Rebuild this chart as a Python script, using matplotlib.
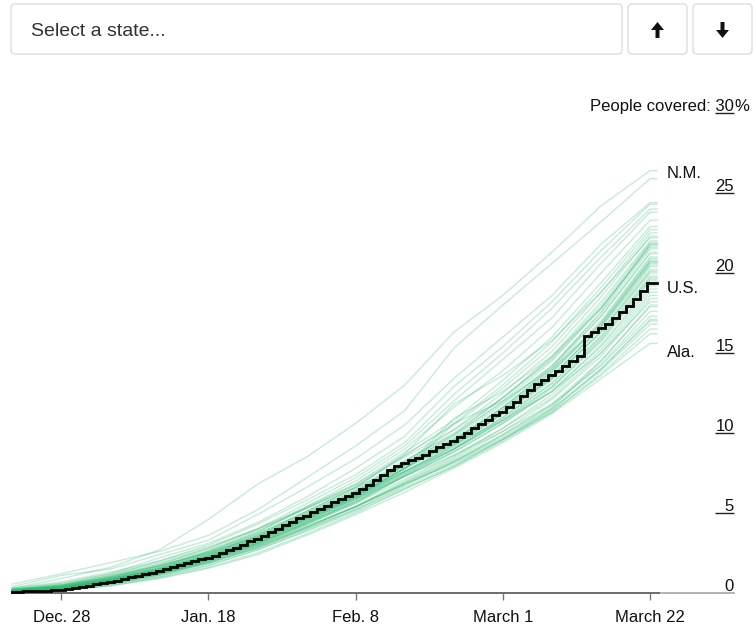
import numpy as np
import pandas as pd
import matplotlib
matplotlib.use("Agg")
import matplotlib.pyplot as plt
import matplotlib.dates as mdates
from matplotlib.patches import FancyBboxPatch, FancyArrow
from matplotlib.transforms import blended_transform_factory

plt.rcParams['font.family'] = ['Liberation Sans', 'DejaVu Sans']

# ---------------- data ----------------
us_dates = pd.date_range('2020-12-21', '2021-03-23', freq='D')
us_values = [
    0.06, 0.08, 0.10, 0.12, 0.13, 0.15, 0.17,
    0.20, 0.25, 0.31, 0.38, 0.45, 0.55, 0.64,
    0.70, 0.78, 0.87, 0.97, 1.06, 1.16, 1.26,
    1.36, 1.48, 1.60, 1.73, 1.86, 1.98, 2.10,
    2.20, 2.32, 2.48, 2.66, 2.84, 3.03, 3.22,
    3.38, 3.58, 3.80, 4.02, 4.24, 4.46, 4.66,
    4.84, 5.04, 5.24, 5.46, 5.70, 5.90, 6.08,
    6.24, 6.50, 6.78, 7.06, 7.40, 7.70, 7.96,
    8.14, 8.30, 8.46, 8.62, 8.86, 9.10, 9.32,
    9.50, 9.72, 10.00, 10.30, 10.56, 10.84, 11.10,
    11.34, 11.64, 11.96, 12.34, 12.70, 13.04, 13.34,
    13.60, 13.90, 14.20, 14.50, 14.82, 16.08, 16.34,
    16.56, 16.84, 17.18, 17.54, 17.94, 18.38, 18.86,
    19.36, 19.36,
]

# weekly readings for each state (Dec 21 ... Mar 22, every 7 days)
state_dates = pd.date_range('2020-12-21', periods=14, freq='7D')
state_names = ['N.M.'] + [''] * 48 + ['Ala.'] + ['', '']
state_values = [
    [0.30, 0.90, 1.60, 2.70, 4.60, 6.80, 8.50, 10.6, 13.0, 16.3, 18.6, 21.3, 24.2, 26.4],
    [0.55, 1.20, 1.90, 2.60, 3.60, 5.20, 7.20, 9.20, 11.4, 15.3, 18.0, 20.6, 23.2, 25.9],
    [0.40, 1.10, 1.50, 2.40, 3.30, 4.90, 6.60, 8.40, 10.5, 13.4, 16.0, 18.6, 21.8, 24.4],
    [0.20, 0.60, 1.20, 2.20, 3.10, 4.40, 6.00, 7.80, 9.80, 12.9, 15.4, 18.2, 21.4, 24.3],
    [0.25, 0.50, 1.10, 2.00, 3.00, 4.30, 5.80, 7.40, 9.40, 12.4, 15.0, 17.8, 21.0, 24.0],
    [0.15, 0.40, 1.00, 1.80, 2.80, 4.00, 5.60, 7.20, 9.20, 12.0, 14.6, 17.2, 20.6, 23.8],
    [0.20, 0.45, 0.95, 1.70, 2.60, 3.80, 5.40, 7.00, 9.00, 11.6, 13.9, 16.6, 20.0, 23.3],
    [0.18, 0.35, 0.90, 1.60, 2.60, 3.80, 5.30, 6.80, 8.80, 10.8, 13.3, 16.0, 19.4, 22.9],
    [0.10, 0.30, 0.80, 1.50, 2.40, 3.60, 5.10, 6.60, 8.60, 10.6, 13.0, 15.7, 19.1, 22.7],
    [0.30, 0.60, 1.20, 1.90, 2.80, 4.00, 5.40, 6.80, 8.60, 10.5, 12.8, 15.4, 18.8, 22.5],
    [0.12, 0.30, 0.85, 1.50, 2.40, 3.50, 4.90, 6.30, 8.20, 10.2, 12.5, 15.1, 18.5, 22.3],
    [0.20, 0.50, 1.00, 1.70, 2.50, 3.70, 5.10, 6.60, 8.70, 11.8, 13.6, 15.8, 18.8, 22.2],
    [0.08, 0.25, 0.70, 1.30, 2.20, 3.30, 4.70, 6.10, 8.00, 9.90, 12.2, 14.8, 18.2, 22.0],
    [0.15, 0.40, 0.90, 1.60, 2.50, 3.60, 5.00, 6.40, 8.20, 10.0, 12.2, 14.7, 18.0, 21.9],
    [0.10, 0.30, 0.80, 1.40, 2.30, 3.40, 4.80, 6.20, 8.10, 9.80, 12.0, 14.5, 17.8, 21.8],
    [0.22, 0.50, 1.10, 1.80, 2.70, 3.90, 5.30, 6.70, 8.50, 10.2, 12.2, 14.6, 17.8, 21.7],
    [0.10, 0.28, 0.75, 1.40, 2.20, 3.30, 4.60, 6.00, 7.80, 10.9, 12.6, 14.8, 17.8, 21.6],
    [0.14, 0.35, 0.85, 1.50, 2.40, 3.50, 4.90, 6.30, 8.00, 9.70, 11.8, 14.2, 17.5, 21.5],
    [0.06, 0.22, 0.65, 1.25, 2.10, 3.20, 4.60, 6.00, 7.80, 9.50, 11.6, 14.0, 17.3, 21.3],
    [0.20, 0.45, 1.00, 1.70, 2.60, 3.70, 5.10, 6.50, 8.30, 9.90, 11.9, 14.2, 17.3, 21.2],
    [0.12, 0.30, 0.80, 1.45, 2.30, 3.40, 4.80, 6.20, 7.90, 9.60, 11.6, 13.9, 17.0, 21.0],
    [0.08, 0.25, 0.70, 1.30, 2.10, 3.20, 4.50, 5.90, 7.60, 9.30, 11.4, 13.8, 16.9, 20.9],
    [0.16, 0.40, 0.90, 1.55, 2.40, 3.50, 4.90, 6.30, 8.00, 9.60, 11.5, 13.8, 16.8, 20.8],
    [0.10, 0.30, 0.75, 1.35, 2.20, 3.30, 4.60, 6.00, 7.70, 10.6, 12.0, 14.0, 16.8, 20.7],
    [0.05, 0.20, 0.60, 1.20, 2.00, 3.10, 4.40, 5.80, 7.50, 9.20, 11.2, 13.5, 16.6, 20.6],
    [0.18, 0.42, 0.95, 1.60, 2.50, 3.60, 5.00, 6.40, 8.00, 9.50, 11.4, 13.6, 16.6, 20.5],
    [0.10, 0.28, 0.72, 1.30, 2.10, 3.20, 4.50, 5.90, 7.60, 9.20, 11.2, 13.4, 16.4, 20.4],
    [0.07, 0.22, 0.62, 1.20, 2.00, 3.00, 4.30, 5.70, 7.40, 9.00, 11.0, 13.3, 16.3, 20.2],
    [0.13, 0.35, 0.85, 1.45, 2.30, 3.40, 4.70, 6.10, 7.80, 9.30, 11.2, 13.4, 16.3, 20.1],
    [0.09, 0.26, 0.70, 1.30, 2.10, 3.10, 4.40, 5.80, 7.40, 9.00, 10.9, 13.1, 16.1, 20.0],
    [0.15, 0.38, 0.88, 1.50, 2.30, 3.40, 4.70, 6.00, 7.60, 9.10, 11.0, 13.1, 16.0, 19.8],
    [0.06, 0.20, 0.58, 1.15, 1.95, 3.00, 4.30, 5.60, 7.30, 8.90, 10.8, 12.9, 15.9, 19.7],
    [0.11, 0.30, 0.75, 1.35, 2.15, 3.20, 4.50, 5.90, 7.50, 9.00, 10.8, 12.9, 15.8, 19.6],
    [0.08, 0.24, 0.66, 1.25, 2.05, 3.10, 4.40, 5.70, 7.30, 8.80, 10.6, 12.8, 15.7, 19.5],
    [0.14, 0.36, 0.82, 1.40, 2.20, 3.30, 4.70, 6.10, 7.80, 9.50, 11.6, 14.1, 17.6, 21.8],
    [0.12, 0.32, 0.80, 1.40, 2.25, 3.35, 4.70, 6.10, 7.80, 9.40, 11.3, 13.5, 16.7, 20.7],
    [0.10, 0.30, 0.75, 1.30, 2.10, 3.10, 4.40, 5.70, 7.30, 8.80, 10.6, 12.6, 15.5, 19.2],
    [0.20, 0.50, 1.05, 1.70, 2.50, 3.50, 4.80, 6.10, 7.60, 9.00, 10.7, 12.6, 15.4, 19.0],
    [0.06, 0.18, 0.55, 1.10, 1.85, 2.85, 4.10, 5.40, 7.00, 8.50, 10.3, 12.4, 15.2, 18.8],
    [0.12, 0.32, 0.78, 1.35, 2.10, 3.10, 4.30, 5.60, 7.10, 8.60, 10.3, 12.2, 15.0, 18.6],
    [0.08, 0.22, 0.60, 1.15, 1.90, 2.90, 4.10, 5.40, 6.90, 8.40, 10.1, 12.1, 14.8, 18.4],
    [0.30, 0.70, 1.30, 2.00, 2.90, 4.00, 5.30, 6.60, 8.00, 9.30, 10.8, 12.6, 15.0, 18.2],
    [0.05, 0.16, 0.50, 1.00, 1.70, 2.70, 3.90, 5.20, 6.70, 8.20, 9.90, 11.8, 14.5, 17.9],
    [0.10, 0.28, 0.70, 1.25, 2.00, 2.95, 4.15, 5.40, 6.90, 8.30, 9.90, 11.7, 14.3, 17.6],
    [0.16, 0.42, 0.90, 1.50, 2.30, 3.30, 4.60, 5.90, 7.30, 8.60, 10.1, 11.8, 14.2, 17.3],
    [0.04, 0.14, 0.45, 0.95, 1.60, 2.50, 3.70, 5.00, 6.50, 7.90, 9.60, 11.5, 14.0, 17.0],
    [0.10, 0.26, 0.65, 1.20, 1.90, 2.80, 4.00, 5.20, 6.60, 8.00, 9.60, 11.4, 13.9, 16.8],
    [0.06, 0.20, 0.55, 1.05, 1.75, 2.70, 3.85, 5.10, 6.50, 7.90, 9.50, 11.3, 13.7, 16.5],
    [0.14, 0.36, 0.80, 1.35, 2.10, 3.00, 4.20, 5.40, 6.80, 8.10, 9.60, 11.3, 13.6, 16.2],
    [0.05, 0.15, 0.45, 0.90, 1.55, 2.40, 3.60, 4.90, 6.30, 7.80, 9.40, 11.2, 13.4, 15.6],
    [0.09, 0.25, 0.62, 1.15, 1.85, 2.80, 4.00, 5.30, 6.80, 8.20, 9.80, 11.6, 14.5, 18.0],
    [0.12, 0.30, 0.72, 1.25, 1.95, 2.90, 4.10, 5.40, 6.80, 8.20, 9.70, 11.5, 14.0, 17.1],
]

tick_dates = pd.to_datetime(['2020-12-28', '2021-01-18', '2021-02-08', '2021-03-01', '2021-03-22'])
tick_labels = ['Dec. 28', 'Jan. 18', 'Feb. 8', 'March 1', 'March 22']
y_ticks = [0, 5, 10, 15, 20, 25, 30]
label_names = ['N.M.', 'U.S.', 'Ala.']
label_offsets = [-0.45, -0.62, -0.85]

# ---------------- figure ----------------
W, H = 753, 624
fig = plt.figure(figsize=(W / 100, H / 100), dpi=100)
ax = fig.add_axes([0, 0, 1, 1])
ax.set_axis_off()

x_us = mdates.date2num(us_dates.to_pydatetime())
x_st = mdates.date2num(state_dates.to_pydatetime())
x0 = x_us[0]
px_per_day = 7.01
left_px = 12.2
ax.set_xlim(x0 - left_px / px_per_day, x0 + (W - left_px) / px_per_day)
# y pixel = 593 - 16*v
ax.set_ylim(-(H - 593) / 16.0, 593 / 16.0)

bt = blended_transform_factory(ax.transAxes, ax.transData)

# state lines
green = '#2db870'
for vals in state_values:
    xs = list(x_st) + [x_us[-1]]
    ys = list(vals) + [vals[-1]]
    ax.plot(xs, ys, color=green, alpha=0.27, lw=1.0, zorder=2, solid_joinstyle='miter')

# US line
ax.plot(x_us, us_values, drawstyle='steps-mid', color='black', lw=2.0, zorder=4,
        solid_joinstyle='miter')

# x axis line
ax.plot([x0 - 0.17, x_us[-1] + 0.4], [0, 0], color='#444444', lw=1.1, zorder=3,
        solid_capstyle='butt')
ax.plot([660 / W, 735 / W], [0, 0], transform=bt, color='#a0a0a0', lw=1.1, zorder=3,
        solid_capstyle='butt')

# x ticks
for d, lab in zip(mdates.date2num(tick_dates.to_pydatetime()), tick_labels):
    ax.plot([d, d], [0, -7 / 16.0], color='#777777', lw=1.0, zorder=3, solid_capstyle='butt')
    ax.text(d, -1.5, lab, ha='center', va='center', fontsize=12, color='#111111')

# y ticks on the right
for v in y_ticks:
    if v == 0:
        ax.text(734 / W, v + 0.14, '0', transform=bt, ha='right', va='baseline',
                fontsize=12, color='#111111')
        continue
    ax.plot([715 / W, 734 / W], [v, v], transform=bt, color='#222222', lw=1.0,
            solid_capstyle='butt')
    if v == 30:
        ax.text(734 / W, v + 0.14, 'People covered: 30', transform=bt, ha='right',
                va='baseline', fontsize=12, color='#111111')
        ax.text(734 / W, v + 0.14, '%', transform=bt, ha='left', va='baseline',
                fontsize=12, color='#111111')
    else:
        ax.text(734 / W, v + 0.14, str(v), transform=bt, ha='right', va='baseline',
                fontsize=12, color='#111111')

# end labels
end_vals = [state_values[0][-1], us_values[-1], state_values[49][-1]]
for name, v, off in zip(label_names, end_vals, label_offsets):
    ax.text(667 / W, v + off, name, transform=bt, ha='left', va='baseline',
            fontsize=12, color='#111111')

# ---------------- top controls ----------------
ui = fig.add_axes([0, 0, 1, 1], zorder=5)
ui.set_xlim(0, W)
ui.set_ylim(H, 0)
ui.set_axis_off()
ui.patch.set_alpha(0)

def box(x, y, w, h):
    ui.add_patch(FancyBboxPatch((x, y), w, h, boxstyle='round,pad=0,rounding_size=4',
                                fc='white', ec='#dddddd', lw=1.0))

box(11, 4, 611, 50)
box(628, 4, 59, 50)
box(693, 4, 59, 50)
ui.text(31, 31, 'Select a state...', ha='left', va='center', fontsize=14, color='#333333')

def arrow(cx, cy, up):
    half = 8.0
    y_start = cy + half if up else cy - half
    dy = -2 * half if up else 2 * half
    ui.add_patch(FancyArrow(cx, y_start, 0, dy, width=4.0, head_width=13,
                            head_length=8, length_includes_head=True,
                            fc='#111111', ec='none'))

arrow(657.5, 30, True)
arrow(722.5, 30, False)

fig.savefig('out.png', dpi=100)
